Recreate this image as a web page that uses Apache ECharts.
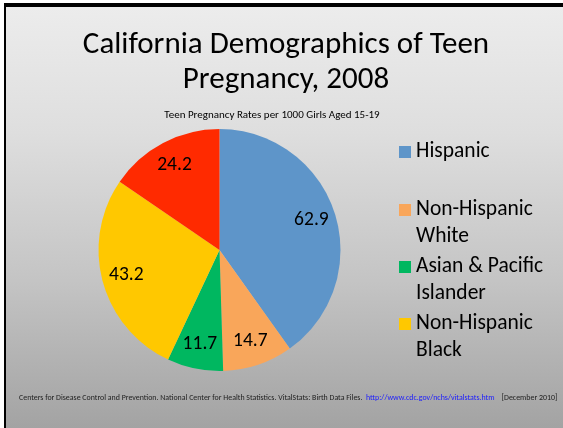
<!DOCTYPE html>
<html>
<head>
<meta charset="utf-8">
<script src="https://cdn.jsdelivr.net/npm/echarts@6/dist/echarts.min.js"></script>
<style>
  html, body { margin:0; padding:0; background:#fff; width:563px; height:428px; overflow:hidden; }
  #frame { position:absolute; left:4px; top:3px; width:559px; height:425px; box-sizing:border-box;
    border-left:2px solid #000; border-top:4px solid #000;
    background: linear-gradient(to bottom, #ececec 0%, #dedede 30%, #c4c4c4 65%, #a3a3a3 100%); }
  #chart { position:absolute; left:0; top:0; width:563px; height:428px; }
</style>
</head>
<body>
<div id="frame"></div>
<div id="chart"></div>
<script>
const titleText = 'California Demographics of Teen\nPregnancy, 2008';
const subtitleText = 'Teen Pregnancy Rates per 1000 Girls Aged 15-19';
const sourceText = 'Centers for Disease Control and Prevention. National Center for Health Statistics. VitalStats: Birth Data Files.';
const sourceLink = 'http://www.cdc.gov/nchs/vitalstats.htm';
const sourceDate = '[December 2010]';

const categories = ['Hispanic', 'Non-Hispanic White', 'Asian & Pacific Islander', 'Non-Hispanic Black', 'Other'];
const values = [62.9, 14.7, 11.7, 43.2, 24.2];
const colors = ['#5e95c9', '#f9a65a', '#00b760', '#ffc800', '#ff2a00'];
const legendNames = ['Hispanic', 'Non-Hispanic White', 'Asian & Pacific Islander', 'Non-Hispanic Black'];
const legendLabels = ['Hispanic', 'Non-Hispanic\nWhite', 'Asian & Pacific\nIslander', 'Non-Hispanic\nBlack'];

const FONT = 'Carlito, Lato, sans-serif';
const chart = echarts.init(document.getElementById('chart'), null, { renderer: 'canvas' });

const pieData = categories.map((c, i) => ({ name: c, value: values[i], itemStyle: { color: colors[i] } }));
const labelData = categories.map((c, i) => ({ name: c, value: values[i] }));

const LH = 26.5;
const iconTops = [146, 204, 261, 318];
const legends = legendNames.map((n, i) => {
  const twoLine = legendLabels[i].split('\n').length > 1;
  return {
    data: [n],
    orient: 'vertical',
    left: 399,
    top: twoLine ? iconTops[i] - (LH * 3 / 2 - 6) : iconTops[i] - (LH / 2 - 6),
    padding: 0,
    itemWidth: 12,
    itemHeight: 12,
    icon: 'rect',
    selectedMode: false,
    formatter: () => (twoLine ? '\n' : '') + legendLabels[i],
    textStyle: { fontSize: 21.5, lineHeight: LH, fontFamily: FONT, color: '#000' }
  };
});

chart.setOption({
  backgroundColor: 'transparent',
  animation: false,
  title: [
    { text: titleText, left: 286, top: 28, textAlign: 'center', padding: 0,
      textStyle: { fontSize: 31, lineHeight: 35, fontWeight: 'normal', color: '#000', fontFamily: FONT } },
    { text: subtitleText, left: 272, top: 108, textAlign: 'center', padding: 0,
      textStyle: { fontSize: 11, lineHeight: 14, fontWeight: 'normal', color: '#000', fontFamily: FONT } },
    { text: '{a|' + sourceText + '  }{b|' + sourceLink + '}{a|    ' + sourceDate + '}', left: 19, top: 394, padding: 0,
      textStyle: { fontWeight: 'normal', rich: {
        a: { fontSize: 7.9, color: '#222', fontFamily: FONT, fontWeight: 'normal' },
        b: { fontSize: 7.9, color: '#1a1aff', fontFamily: FONT, fontWeight: 'normal' }
      } } }
  ],
  legend: legends,
  series: [
    {
      type: 'pie', name: 'pie', center: [219.5, 250], radius: [0, 121], startAngle: 90, clockwise: true,
      data: pieData, label: { show: false }, labelLine: { show: false }, silent: true,
      emphasis: { disabled: true }, itemStyle: { borderWidth: 0 }
    },
    {
      type: 'pie', name: 'labels', center: [219.5, 250], radius: [66, 121], startAngle: 90, clockwise: true,
      data: labelData, silent: true, emphasis: { disabled: true },
      itemStyle: { color: 'rgba(0,0,0,0)', borderWidth: 0 },
      label: { show: true, position: 'inside', formatter: '{c}', fontSize: 19.5, color: '#000', fontFamily: FONT },
      labelLine: { show: false }
    }
  ]
});
</script>
</body>
</html>
